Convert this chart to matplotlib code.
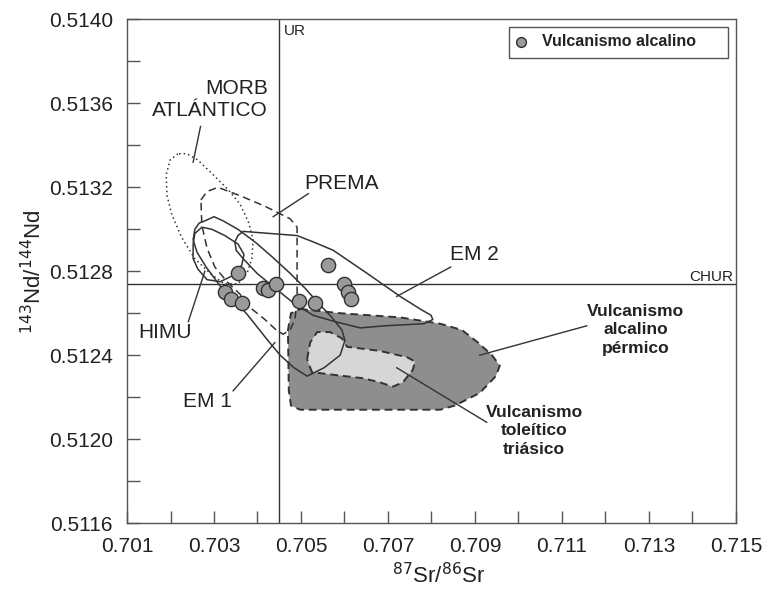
import matplotlib
matplotlib.use("Agg")
import matplotlib.pyplot as plt
from matplotlib.patches import Polygon, Rectangle

plt.rcParams['font.family'] = ['Liberation Sans', 'DejaVu Sans']

# reference lines
UR = 0.7045
CHUR = 0.51274

# alkaline volcanism samples
sr_alc = [0.70356, 0.70325, 0.70339, 0.70364, 0.70413, 0.70423, 0.70443,
          0.70496, 0.70533, 0.70561, 0.70598, 0.70607, 0.70614]
nd_alc = [0.51279, 0.51270, 0.51267, 0.51265, 0.51272, 0.51271, 0.51274,
          0.51266, 0.51265, 0.51283, 0.51274, 0.51270, 0.51267]

# mantle reservoir fields (outlines)
morb_sr = [0.70217, 0.70199, 0.70190, 0.70192, 0.70203, 0.70226, 0.70256, 0.70291,
           0.70323, 0.70355, 0.70376, 0.70387, 0.70390, 0.70380, 0.70360, 0.70332,
           0.70298, 0.70263, 0.70238]
morb_nd = [0.51336, 0.51333, 0.51326, 0.51316, 0.51307, 0.51296, 0.51286, 0.51279,
           0.51274, 0.51274, 0.51279, 0.51286, 0.51295, 0.51303, 0.51312, 0.51319,
           0.51326, 0.51333, 0.51336]

prema_sr = [0.70270, 0.70284, 0.70309, 0.70360, 0.70417, 0.70475, 0.70491, 0.70491,
            0.70491, 0.70486, 0.70475, 0.70459, 0.70443, 0.70417, 0.70387, 0.70360,
            0.70330, 0.70302, 0.70284, 0.70272]
prema_nd = [0.51314, 0.51318, 0.51320, 0.51316, 0.51311, 0.51305, 0.51301, 0.51285,
            0.51266, 0.51257, 0.51252, 0.51250, 0.51252, 0.51257, 0.51262, 0.51269,
            0.51275, 0.51282, 0.51291, 0.51302]

himu_sr = [0.70252, 0.70256, 0.70272, 0.70295, 0.70325, 0.70355, 0.70369, 0.70364,
           0.70344, 0.70314, 0.70284, 0.70263, 0.70252]
himu_nd = [0.51293, 0.51298, 0.51301, 0.51300, 0.51297, 0.51293, 0.51288, 0.51283,
           0.51278, 0.51275, 0.51276, 0.51281, 0.51286]

em1_sr = [0.70279, 0.70300, 0.70321, 0.70355, 0.70394, 0.70433, 0.70475, 0.70509,
          0.70539, 0.70571, 0.70594, 0.70601, 0.70590, 0.70553, 0.70514, 0.70484,
          0.70452, 0.70420, 0.70378, 0.70348, 0.70314, 0.70282, 0.70261, 0.70252,
          0.70256, 0.70266]
em1_nd = [0.51304, 0.51306, 0.51304, 0.51300, 0.51294, 0.51287, 0.51279, 0.51272,
          0.51265, 0.51258, 0.51252, 0.51247, 0.51240, 0.51234, 0.51230, 0.51234,
          0.51240, 0.51248, 0.51259, 0.51266, 0.51273, 0.51282, 0.51289, 0.51295,
          0.51300, 0.51303]

em2_sr = [0.70367, 0.70429, 0.70491, 0.70528, 0.70574, 0.70652, 0.70728, 0.70774,
          0.70799, 0.70803, 0.70783, 0.70693, 0.70636, 0.70578, 0.70528, 0.70482,
          0.70440, 0.70399, 0.70367, 0.70351, 0.70348, 0.70355]
em2_nd = [0.51299, 0.51298, 0.51297, 0.51294, 0.51290, 0.51279, 0.51268, 0.51262,
          0.51259, 0.51257, 0.51255, 0.51254, 0.51253, 0.51256, 0.51259, 0.51265,
          0.51272, 0.51279, 0.51286, 0.51290, 0.51294, 0.51297]

# permian alkaline and triassic tholeiitic fields (filled)
perm_sr = [0.70498, 0.70590, 0.70728, 0.70820, 0.70870, 0.70907, 0.70939, 0.70957,
           0.70948, 0.70911, 0.70854, 0.70820, 0.70498, 0.70477, 0.70472, 0.70470,
           0.70477]
perm_nd = [0.51262, 0.51260, 0.51258, 0.51255, 0.51252, 0.51246, 0.51240, 0.51235,
           0.51230, 0.51222, 0.51216, 0.51214, 0.51214, 0.51216, 0.51223, 0.51252,
           0.51260]

tri_sr = [0.70514, 0.70521, 0.70537, 0.70567, 0.70594, 0.70606, 0.70682, 0.70744,
          0.70762, 0.70757, 0.70734, 0.70711, 0.70682, 0.70643, 0.70560, 0.70525]
tri_nd = [0.51238, 0.51246, 0.51251, 0.51251, 0.51248, 0.51244, 0.51242, 0.51239,
          0.51237, 0.51233, 0.51227, 0.51225, 0.51227, 0.51229, 0.51231, 0.51232]

# labels: text, position, leader line start/end
labels = [
    ("MORB\nATLÁNTICO", (0.70424, 0.51362), "right", (0.70269, 0.51349), (0.70252, 0.51332)),
    ("PREMA", (0.70594, 0.51322), "center", (0.70517, 0.51317), (0.70436, 0.51306)),
    ("EM 2", (0.70843, 0.51288), "left", (0.70844, 0.51282), (0.70720, 0.51268)),
    ("HIMU", (0.70187, 0.51251), "center", (0.70241, 0.51256), (0.70279, 0.51280)),
    ("EM 1", (0.70286, 0.51218), "center", (0.70344, 0.51223), (0.70440, 0.51246)),
]
bold_labels = [
    ("Vulcanismo\nalcalino\npérmico", (0.71270, 0.51252), (0.71157, 0.51254), (0.70911, 0.51240)),
    ("Vulcanismo\ntoleítico\ntriásico", (0.71036, 0.51204), (0.70927, 0.51208), (0.70720, 0.51234)),
]

ink = '#222222'
line_c = '#333333'

fig = plt.figure(figsize=(7.66, 5.94), dpi=100)
ax = fig.add_axes([0.1658, 0.1195, 0.7950, 0.8477])

# filled fields
ax.add_patch(Polygon(list(zip(perm_sr, perm_nd)), closed=True, facecolor='#8e8e8e',
                     edgecolor=line_c, linestyle=(0, (4, 2.5)), lw=1.4, zorder=1))
ax.add_patch(Polygon(list(zip(tri_sr, tri_nd)), closed=True, facecolor='#d6d6d6',
                     edgecolor=line_c, linestyle=(0, (4, 2.5)), lw=1.4, zorder=2))

# reservoir outlines
outlines = [
    (morb_sr, morb_nd, (0, (1, 2))),
    (prema_sr, prema_nd, (0, (5, 3))),
    (himu_sr, himu_nd, '-'),
    (em1_sr, em1_nd, '-'),
    (em2_sr, em2_nd, '-'),
]
for xs, ys, ls in outlines:
    ax.add_patch(Polygon(list(zip(xs, ys)), closed=True, fill=False, edgecolor=line_c,
                         linestyle=ls, lw=1.1, joinstyle='round', zorder=3))

# UR and CHUR
ax.axvline(UR, color=line_c, lw=1.0, zorder=2.5)
ax.axhline(CHUR, color=line_c, lw=1.0, zorder=2.5)
ax.text(UR + 0.00011, 0.51398, "UR", fontsize=11, color=ink, ha='left', va='top')
ax.text(0.71493, CHUR, "CHUR", fontsize=11, color=ink, ha='right', va='bottom')

# samples
ax.scatter(sr_alc, nd_alc, s=105, facecolor='#9a9a9a', edgecolor='#303030',
           linewidth=1.0, zorder=5)

for txt, pos, ha, p0, p1 in labels:
    ax.text(pos[0], pos[1], txt, fontsize=15, color=ink, ha=ha, va='center',
            linespacing=1.2)
    ax.plot([p0[0], p1[0]], [p0[1], p1[1]], color=line_c, lw=1.0, zorder=4)

for txt, pos, p0, p1 in bold_labels:
    ax.text(pos[0], pos[1], txt, fontsize=12.5, fontweight='bold', color=ink,
            ha='center', va='center', linespacing=1.3)
    ax.plot([p0[0], p1[0]], [p0[1], p1[1]], color=line_c, lw=1.0, zorder=4)

# legend box
ax.add_patch(Rectangle((0.6273, 0.9235), 0.3596, 0.0616, transform=ax.transAxes,
                       facecolor='white', edgecolor='#555555', lw=1.0, zorder=6))
ax.scatter([0.6470], [0.9553], s=50, facecolor='#9a9a9a', edgecolor='#303030',
           linewidth=1.0, transform=ax.transAxes, zorder=7)
ax.text(0.6810, 0.9553, "Vulcanismo alcalino", transform=ax.transAxes,
        fontsize=11.5, fontweight='bold', color=ink, ha='left', va='center', zorder=7)

ax.set_xlim(0.701, 0.715)
ax.set_ylim(0.5116, 0.5140)
ax.set_xticks([0.701, 0.703, 0.705, 0.707, 0.709, 0.711, 0.713, 0.715])
ax.set_xticks([0.702, 0.704, 0.706, 0.708, 0.710, 0.712, 0.714], minor=True)
ax.set_xticklabels(['0.701', '0.703', '0.705', '0.707', '0.709', '0.711', '0.713', '0.715'])
ax.set_yticks([0.5116, 0.5120, 0.5124, 0.5128, 0.5132, 0.5136, 0.5140])
ax.set_yticks([0.5118, 0.5122, 0.5126, 0.5130, 0.5134, 0.5138], minor=True)
ax.set_yticklabels(['0.5116', '0.5120', '0.5124', '0.5128', '0.5132', '0.5136', '0.5140'])
ax.tick_params(which='both', direction='in', length=9, width=1.0, color='#555555',
               labelsize=15, labelcolor=ink, pad=10)
for sp in ax.spines.values():
    sp.set_color('#555555')
    sp.set_linewidth(1.0)

ax.set_xlabel(r'$^{87}$Sr/$^{86}$Sr', fontsize=16, color=ink)
ax.set_ylabel(r'$^{143}$Nd/$^{144}$Nd', fontsize=16, color=ink)
ax.xaxis.set_label_coords(0.512, -0.080)
ax.yaxis.set_label_coords(-0.133, 0.5)

fig.savefig('out.png', dpi=100)
